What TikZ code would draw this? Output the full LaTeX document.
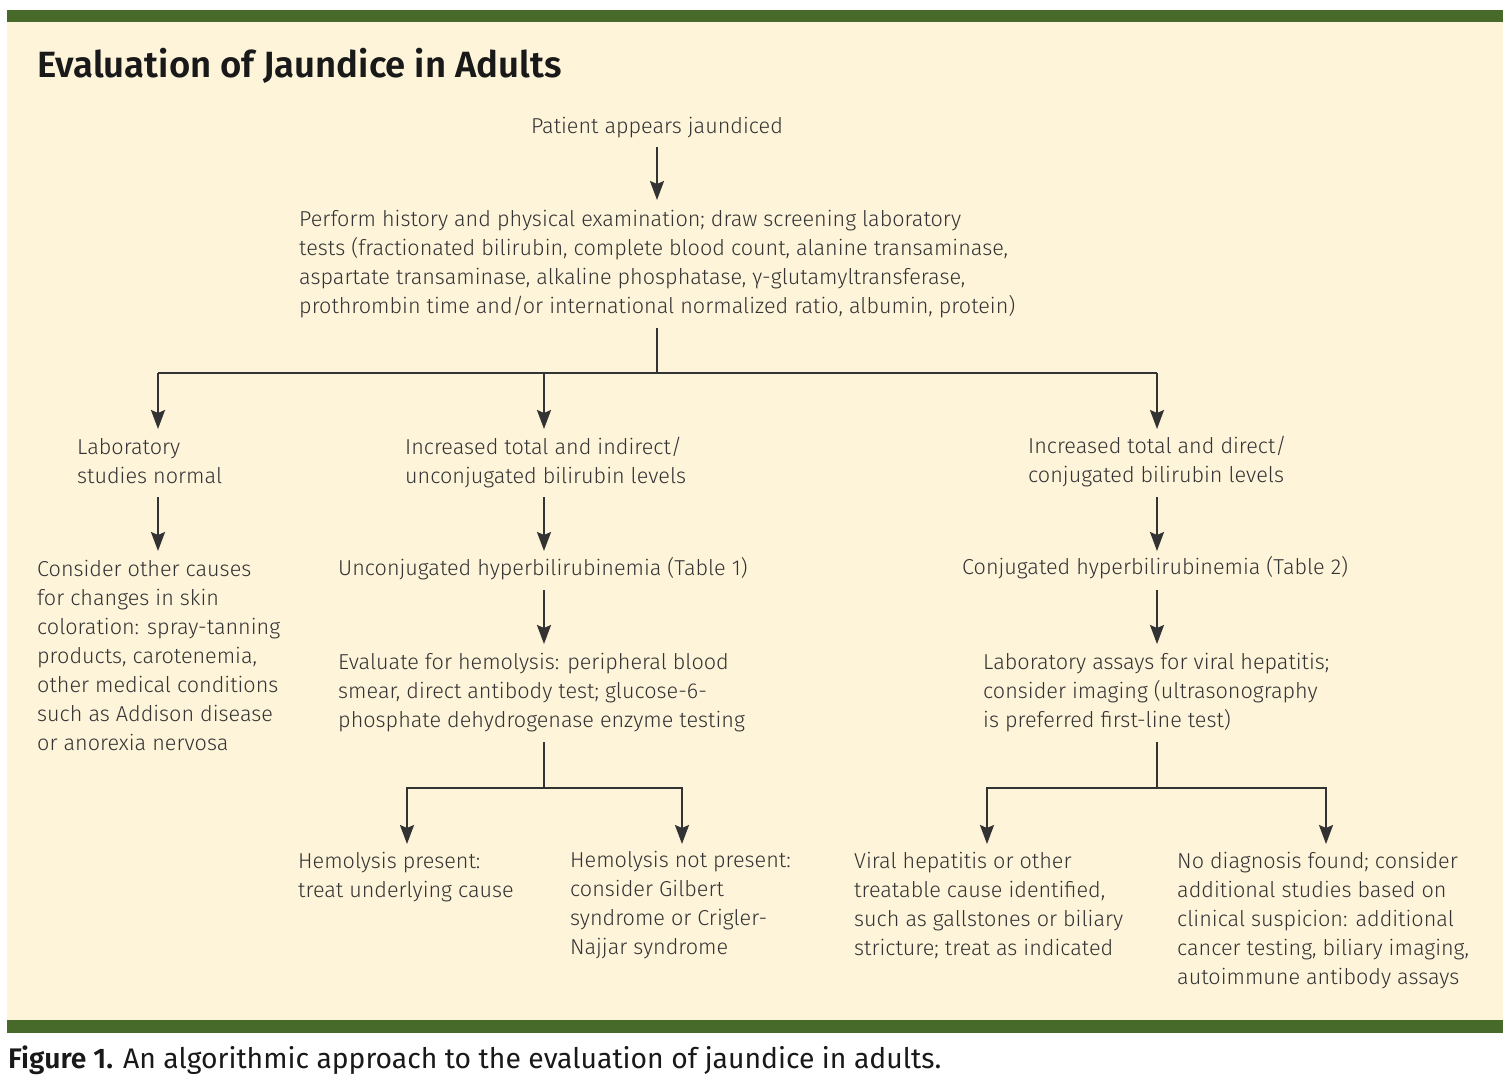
\documentclass[tikz,border=0pt]{standalone}
\usepackage{fontspec}
\setmainfont{Fira Sans Light}[BoldFont=Fira Sans SemiBold]
\newfontfamily\capfont{Fira Sans}[BoldFont=Fira Sans SemiBold]
\usetikzlibrary{arrows.meta}
\definecolor{bar}{HTML}{476A2B}
\definecolor{cream}{HTML}{FEF4DA}
\definecolor{ink}{HTML}{333333}
\newcommand\ml[1]{\begin{tabular}[t]{@{}l@{}}#1\end{tabular}}
\begin{document}
\begin{tikzpicture}[x=1bp,y=-1bp,
  txt/.style={anchor=base west, inner sep=0pt, text=ink, font=\fontsize{21.6bp}{29bp}\selectfont},
  arr/.style={draw=ink, line width=2bp, -{Stealth[length=19bp,width=14bp,inset=3bp]}},
  ln/.style={draw=ink, line width=2bp}]
\useasboundingbox (0,0) rectangle (1510,1086);
\fill[white] (0,0) rectangle (1510,1086);
\fill[cream] (7,22) rectangle (1503,1020);
\fill[bar] (7,10) rectangle (1503,22);
\fill[bar] (7,1020) rectangle (1503,1033);

\node[txt, text=black!90, font=\fontsize{36.5bp}{40bp}\selectfont\bfseries] (title) at (37,77) {Evaluation of Jaundice in Adults};

\node[txt, anchor=base] (patient) at (657,133) {Patient appears jaundiced};
\node[txt] (perform) at (299,226) {\ml{Perform history and physical examination; draw screening laboratory\\
tests (fractionated bilirubin, complete blood count, alanine transaminase,\\
aspartate transaminase, alkaline phosphatase, γ-glutamyltransferase,\\
prothrombin time and/or international normalized ratio, albumin, protein)}};

\node[txt] (labnorm) at (77,454) {\ml{Laboratory\\studies normal}};
\node[txt] (consider) at (37,576) {\ml{Consider other causes\\for changes in skin\\coloration: spray-tanning\\products, carotenemia,\\other medical conditions\\such as Addison disease\\or anorexia nervosa}};

\node[txt] (incind) at (405,454) {\ml{Increased total and indirect/\\unconjugated bilirubin levels}};
\node[txt] (unconj) at (338,575) {Unconjugated hyperbilirubinemia (Table 1)};
\node[txt] (evalh) at (338,669) {\ml{Evaluate for hemolysis: peripheral blood\\smear, direct antibody test; glucose-6-\\phosphate dehydrogenase enzyme testing}};
\node[txt] (hemp) at (298,868) {\ml{Hemolysis present:\\treat underlying cause}};
\node[txt] (hemnp) at (570,867) {\ml{Hemolysis not present:\\consider Gilbert\\syndrome or Crigler-\\Najjar syndrome}};

\node[txt] (incdir) at (1028,453) {\ml{Increased total and direct/\\conjugated bilirubin levels}};
\node[txt] (conj) at (962,574) {Conjugated hyperbilirubinemia (Table 2)};
\node[txt] (labass) at (983,669) {\ml{Laboratory assays for viral hepatitis;\\consider imaging (ultrasonography\\is preferred first-line test)}};
\node[txt] (viral) at (854,868) {\ml{Viral hepatitis or other\\treatable cause identified,\\such as gallstones or biliary\\stricture; treat as indicated}};
\node[txt] (nodiag) at (1177,868) {\ml{No diagnosis found; consider\\additional studies based on\\clinical suspicion: additional\\cancer testing, biliary imaging,\\autoimmune antibody assays}};

\node[txt, text=black!90, font=\fontsize{28.3bp}{32bp}\selectfont\capfont] (caption) at (8,1068) {\textbf{Figure 1.} An algorithmic approach to the evaluation of jaundice in adults.};

% connectors
\coordinate (p0) at (657,147); \coordinate (p1) at (657,200);
\draw[arr] (p0) -- (p1);
\coordinate (t0) at (657,328); \coordinate (t1) at (657,373);
\coordinate (hl) at (158,373); \coordinate (hm) at (544,373); \coordinate (hr) at (1157,373);
\draw[ln] (t0) -- (t1);
\draw[ln] (hl) -- (hr);
\draw[arr] (hl) -- (158,429);
\draw[arr] (hm) -- (544,429);
\draw[arr] (hr) -- (1157,429);
\draw[arr] (158,497) -- (158,551);
\draw[arr] (544,497) -- (544,551);
\draw[arr] (1157,497) -- (1157,551);
\draw[arr] (544,590) -- (544,644);
\draw[arr] (1157,590) -- (1157,644);
\draw[ln] (544,742) -- (544,788);
\draw[ln] (407,788) -- (682,788);
\draw[arr] (407,787) -- (407,844);
\draw[arr] (682,787) -- (682,844);
\draw[ln] (1157,742) -- (1157,788);
\draw[ln] (987,788) -- (1326,788);
\draw[arr] (987,787) -- (987,844);
\draw[arr] (1326,787) -- (1326,844);
\end{tikzpicture}
\end{document}
